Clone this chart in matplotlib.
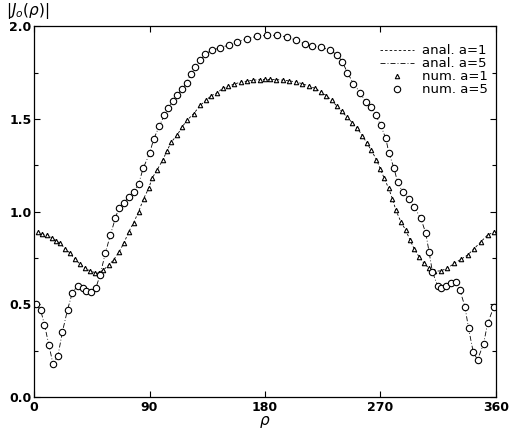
import matplotlib
matplotlib.use("Agg")
import matplotlib.pyplot as plt
from matplotlib.ticker import MultipleLocator

# a = 1 (triangles)
rho_a1 = [2.6, 6, 10, 13.8, 17.2, 20.3, 24.2, 28, 32, 36, 40, 43.75, 47.7, 50.2, 54, 58, 62, 66,
          70, 73.7, 77.6, 81.5, 85.4, 89.3, 92, 95.8, 100.3, 103.6, 107, 111.5, 115.4, 119.3,
          124.5, 129.7, 134, 138, 142.7, 147, 151, 156, 161, 166, 171, 176, 180, 184, 189, 194,
          199, 204, 209, 214, 219, 224, 228, 232, 236, 240, 244, 248, 252, 256, 259.5, 263, 267,
          270, 273, 276.5, 279.4, 282, 286, 289.8, 293.2, 296.3, 300.2, 304.1, 308, 312, 317,
          322, 327.6, 332.8, 338, 343.2, 348.4, 353.6, 358.8]
J_a1 = [0.888, 0.88, 0.873, 0.859, 0.843, 0.828, 0.80, 0.775, 0.742, 0.715, 0.694, 0.679, 0.67,
        0.667, 0.685, 0.71, 0.74, 0.78, 0.83, 0.89, 0.94, 1.00, 1.07, 1.125, 1.18, 1.224, 1.278,
        1.328, 1.376, 1.412, 1.457, 1.493, 1.529, 1.574, 1.60, 1.625, 1.64, 1.665, 1.675, 1.688,
        1.698, 1.704, 1.709, 1.712, 1.713, 1.713, 1.712, 1.709, 1.705, 1.70, 1.69, 1.678, 1.665,
        1.645, 1.625, 1.60, 1.57, 1.54, 1.51, 1.48, 1.45, 1.41, 1.37, 1.33, 1.28, 1.23, 1.18,
        1.125, 1.07, 1.01, 0.945, 0.90, 0.846, 0.80, 0.756, 0.72, 0.694, 0.678, 0.68, 0.693,
        0.72, 0.742, 0.765, 0.80, 0.837, 0.873, 0.89]

# a = 5 (circles)
rho_a5 = [1.5, 5, 8, 11.5, 14.6, 18.5, 22, 26, 29.7, 33.8, 38, 40.6, 44.3, 48, 51.5, 55.5, 59.4,
          63.3, 65.9, 69.8, 73.7, 77.6, 81.5, 85, 90, 93.2, 97.5, 101.5, 104.5, 108, 111.5, 115.4,
          119, 122, 125.8, 129.7, 133.6, 138.8, 145.3, 151.8, 158.4, 166, 174, 181.8, 189.6,
          197.4, 204, 211, 217, 223.4, 231, 236.5, 240.4, 244.3, 249, 254.5, 258.6, 262.5, 266.4,
          270.3, 274.2, 276.8, 280.7, 283.4, 287.3, 292.4, 296.3, 301.6, 305.5, 308, 310.6, 314.6,
          317, 321, 325, 329, 332, 336, 338.8, 342.4, 345.8, 350.5, 353.7, 358.4]
J_a5 = [0.50, 0.47, 0.39, 0.28, 0.18, 0.22, 0.35, 0.47, 0.56, 0.60, 0.59, 0.57, 0.565, 0.585,
        0.66, 0.775, 0.873, 0.963, 1.017, 1.044, 1.08, 1.107, 1.15, 1.233, 1.314, 1.39, 1.46,
        1.52, 1.56, 1.595, 1.63, 1.66, 1.695, 1.74, 1.78, 1.817, 1.852, 1.87, 1.885, 1.898,
        1.915, 1.933, 1.946, 1.951, 1.951, 1.942, 1.925, 1.905, 1.895, 1.888, 1.87, 1.844, 1.808,
        1.75, 1.69, 1.64, 1.59, 1.565, 1.52, 1.466, 1.395, 1.314, 1.233, 1.16, 1.107, 1.07,
        1.026, 0.963, 0.882, 0.783, 0.675, 0.60, 0.587, 0.598, 0.613, 0.62, 0.577, 0.487, 0.37,
        0.244, 0.20, 0.286, 0.397, 0.483]

x_ticks = [0, 90, 180, 270, 360]
y_ticks = [0.0, 0.5, 1.0, 1.5, 2.0]
legend_labels = ["anal. a=1", "anal. a=5", "num. a=1", "num. a=5"]

plt.rcParams['font.family'] = ['DejaVu Sans']

fig = plt.figure(figsize=(5.1, 4.3), dpi=100)
ax = fig.add_axes([0.067, 0.077, 0.905, 0.862])

l1, = ax.plot(rho_a1, J_a1, color='black', lw=0.6, ls=(0, (3, 2.5)))
l2, = ax.plot(rho_a5, J_a5, color='black', lw=0.6, ls=(0, (6, 2.5, 1, 2.5)))
m1, = ax.plot(rho_a1, J_a1, ls='none', marker='^', ms=3.2, mfc='white', mec='black', mew=0.8)
m2, = ax.plot(rho_a5, J_a5, ls='none', marker='o', ms=4.6, mfc='white', mec='black', mew=0.8)

ax.set_xlim(0, 360)
ax.set_ylim(0, 2.0)
ax.set_xticks(x_ticks)
ax.set_xticklabels([str(v) for v in x_ticks])
ax.set_yticks(y_ticks)
ax.set_yticklabels([f"{v:.1f}" for v in y_ticks])
ax.yaxis.set_minor_locator(MultipleLocator(0.25))
ax.tick_params(which='both', direction='in', top=True, right=True, width=0.8)
ax.tick_params(which='major', length=4, labelsize=9)
ax.tick_params(axis='y', which='major', pad=2)
ax.tick_params(axis='x', which='major', pad=3)
ax.tick_params(which='minor', length=3)
for lab in ax.get_xticklabels() + ax.get_yticklabels():
    lab.set_fontweight('bold')
for s in ax.spines.values():
    s.set_linewidth(0.9)

fig.text(0.52, 0.001, r"$\rho$", fontsize=11, ha='center', va='bottom')
fig.text(0.012, 0.998, r"$|J_{o}(\rho)|$", fontsize=11, ha='left', va='top')

ax.legend([l1, l2, m1, m2], legend_labels, loc='upper right', frameon=False,
          fontsize=9.5, handlelength=2.6, handletextpad=0.6, borderaxespad=0.0,
          labelspacing=0.0, bbox_to_anchor=(0.995, 0.965), markerfirst=True)

fig.savefig("out.png", dpi=100)
